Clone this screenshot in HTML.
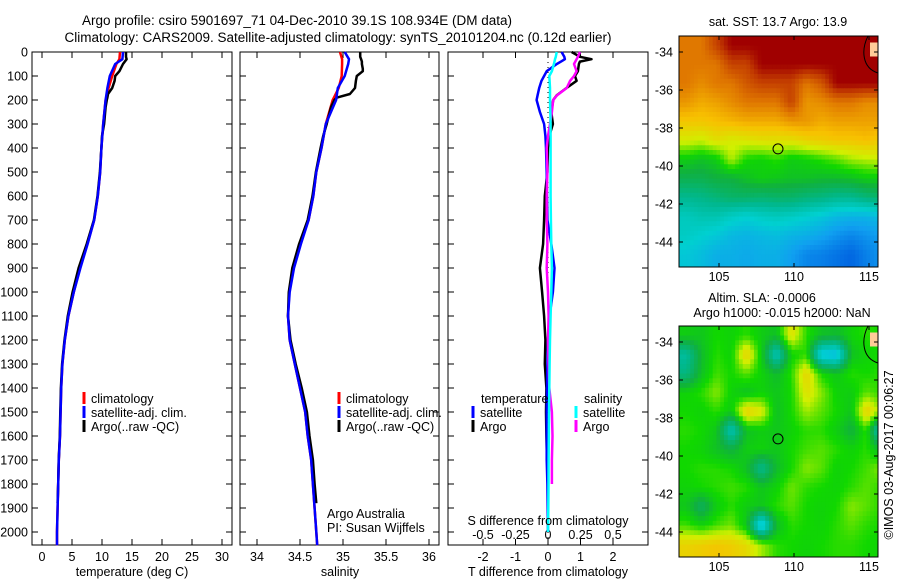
<!DOCTYPE html>
<html><head><meta charset="utf-8"><style>
html,body{margin:0;padding:0;background:#fff;}
svg{display:block;font-family:"Liberation Sans",sans-serif;}
text{font-size:12.5px;fill:#000;}
</style></head><body>
<svg id="fig" width="900" height="580" viewBox="0 0 900 580" xmlns="http://www.w3.org/2000/svg">
<text x="297" y="25" text-anchor="middle" style="font-size:13.5px">Argo profile: csiro 5901697_71 04-Dec-2010 39.1S 108.934E (DM data)</text>
<text x="338" y="42" text-anchor="middle" style="font-size:13.5px">Climatology: CARS2009. Satellite-adjusted climatology: synTS_20101204.nc (0.12d earlier)</text>
<g id="g"></g>
</svg>
<script>
// ---------- data ----------
const depthTicks=[0,100,200,300,400,500,600,700,800,900,1000,1100,1200,1300,1400,1500,1600,1700,1800,1900,2000];
const tTicks=[0,5,10,15,20,25,30];
const sTicks=[34,34.5,35,35.5,36];
const sTickLabels=["34","34.5","35","35.5","36"];
const dTTicks=[-2,-1,0,1,2];
const dSTicks=[-0.5,-0.25,0,0.25,0.5];
const dSTickLabels=["-0.5","-0.25","0","0.25","0.5"];

const climDepth=[0,30,50,100,150,200,300,400,500,600,700,800,900,1000,1100,1200,1300,1400,1500,1600,1700,1800,1900,2000,2055];
const climT=[13.0,12.9,12.4,11.7,11.1,10.6,10.2,9.9,9.7,9.3,8.7,7.55,6.3,5.3,4.4,3.8,3.4,3.2,3.1,3.0,2.8,2.7,2.6,2.5,2.5];
const satT=[13.5,13.4,12.2,11.3,10.9,10.6,10.2,9.9,9.7,9.3,8.7,7.6,6.4,5.3,4.4,3.8,3.4,3.2,3.1,3.0,2.8,2.7,2.6,2.5,2.5];
const climS=[34.965,34.99,34.99,34.985,34.95,34.88,34.80,34.75,34.69,34.655,34.60,34.50,34.42,34.375,34.36,34.38,34.44,34.5,34.56,34.59,34.63,34.65,34.67,34.69,34.70];
const satS=[35.02,35.07,35.06,35.02,34.94,34.92,34.80,34.75,34.69,34.655,34.60,34.51,34.43,34.38,34.36,34.38,34.44,34.5,34.56,34.59,34.63,34.65,34.67,34.69,34.70];

const argoDepth=[0,20,30,40,50,70,80,100,120,150,175,190,200,230,300,350,400,500,600,700,800,900,1000,1100,1200,1300,1400,1500,1600,1700,1800,1880];
const argoT=[14.0,14.0,14.1,13.8,13.5,13.1,12.9,12.2,12.1,11.7,11.0,10.9,10.8,10.6,10.35,10.0,9.9,9.65,9.25,8.65,7.45,6.1,5.1,4.3,3.75,3.35,3.15,3.05,2.97,2.78,2.7,2.6];
const argoS=[35.2,35.2,35.21,35.22,35.22,35.23,35.23,35.16,35.15,35.14,35.08,34.93,34.9,34.86,34.81,34.77,34.74,34.685,34.645,34.59,34.49,34.41,34.37,34.36,34.39,34.45,34.52,34.58,34.61,34.65,34.67,34.69];

const diffDepth=[0,20,30,40,50,80,100,120,150,180,200,250,300,350,400,500,600,700,800,900,1000,1100,1200,1300,1400,1500,1600,1700,1800,1900,2000];
const dTsat=[0.42,0.5,0.52,0.4,0.27,-0.04,-0.12,-0.2,-0.27,-0.32,-0.35,-0.25,-0.12,-0.08,-0.06,-0.04,-0.03,-0.02,0.1,0.2,0.15,0.05,0.0,-0.02,-0.03,-0.04,-0.04,-0.04,-0.02,-0.01,0];
const dTargo=[0.73,0.98,1.34,0.98,0.95,0.92,0.83,0.88,0.57,0.27,0.16,0.1,0.15,0.04,0.0,-0.02,-0.1,-0.12,-0.15,-0.25,-0.18,-0.12,-0.08,-0.1,-0.05,-0.06,-0.05,-0.03,null,null,null];
const dSsat=[0.067,0.06,0.054,0.05,0.045,0.03,0.01,0.012,0.015,0.015,0.015,0.018,0.02,0.02,0.02,0.02,0.02,0.022,0.025,0.03,0.025,0.02,0.015,0.012,0.01,0.008,0.006,0.005,0.004,0.002,0.0];
const dSargo=[0.246,0.23,0.22,0.21,0.2,0.22,0.2,0.17,0.144,0.07,0.04,0.03,0.015,0.0,-0.01,-0.005,-0.01,-0.01,-0.005,-0.01,0.0,0.005,0.0,0.005,0.01,0.03,0.035,0.03,0.03,null,null];

// map data: rows from north (-33.2) to south, columns from west (102.3), 1 degree cells
const sstGrid=[
[9,9,9.5,10,10,10,10,10,10,10,10,10,10,10],
[9,9,9,9.5,9.5,10,10,10,10,10,10,10,10,10],
[9,8.8,9,9,9.3,9.5,9.5,9.5,9,9.3,10,10,10,10],
[8.7,8.5,8.6,8.8,9,9,9,9.5,8.7,8.8,9,9,8.8,8.8],
[8.2,8.2,8.3,8.4,8.5,8.5,8.5,8.7,8.7,8.5,8.6,8.6,8.6,8.6],
[7.6,7.5,7.8,7.6,7.7,7.8,7.8,7.8,8,8.1,8.2,8.2,8.3,8.1],
[6.5,6.3,6.5,7.4,6.7,6.6,6.8,6.5,6.6,6.8,7,7.3,7.4,7.5],
[5.8,5.8,6,6,6.3,6.5,6.4,6.3,6.3,6.2,6.2,6.3,6.5,6.5],
[5,5.1,5.3,5.5,5.5,5.4,5.5,5.5,5.3,5.2,5,5,5.3,5.5],
[4.3,4.5,4.5,4.2,4,4.2,4.3,4.2,4,3.8,3.5,3.4,3.4,3.6],
[4.2,4,3.8,3.5,3.4,3.5,3.6,3.4,3.3,3.1,2.8,2.6,2.8,3],
[3.8,3.6,3.3,3.3,3.2,3.3,3.3,3,2.6,2.5,2.3,2.1,2.5,2.8]];
const slaGrid=[
[6.5,6.4,6.7,6.6,6.8,6.5,6.3,7.8,6.8,6.3,6.2,6.6,6.8,6.7],
[4.8,6.2,6.8,6.6,8.1,6.5,4.3,6.6,6.8,3.6,3.4,6.3,6.6,6.7],
[5.2,6.3,6.9,6.7,7.0,6.6,6.2,6.8,8.0,6.7,6.4,6.8,6.7,6.8],
[6.6,6.8,7.2,6.6,6.3,6.6,6.4,6.7,7.8,7.2,6.6,6.5,7.0,6.8],
[6.7,6.6,6.8,6.5,8.1,7.7,6.3,6.7,7.3,7.0,6.7,6.4,8.1,7.2],
[6.8,6.7,6.4,4.4,6.3,6.5,6.4,6.6,6.8,6.8,6.5,6.0,6.8,4.0],
[6.7,6.6,6.3,6.0,6.5,6.6,6.4,6.7,6.9,7.0,6.8,6.6,6.8,6.2],
[6.7,6.8,6.8,6.7,6.3,5.0,6.2,6.7,7.2,7.0,6.6,6.7,6.9,7.2],
[6.6,6.7,6.8,6.9,6.8,6.4,6.6,7.1,6.8,6.7,6.6,6.8,7.0,6.8],
[6.4,5.6,6.5,6.8,6.5,6.4,6.8,7.0,6.7,6.6,6.7,7.2,7.0,6.8],
[6.9,6.6,6.9,7.1,6.4,3.3,6.2,6.8,6.7,6.6,6.8,7.0,6.8,6.7],
[8.0,8.1,8.2,8.1,7.9,7.3,6.8,6.7,6.6,6.7,6.8,6.8,6.7,6.6]];
const lonTicks=[105,110,115];
const latTicks=[-34,-36,-38,-40,-42,-44];
const argoLon=108.934, argoLat=-39.1;

// ---------- drawing ----------
const NS="http://www.w3.org/2000/svg";
const G=document.getElementById('g');
function el(tag,attrs,parent){const e=document.createElementNS(NS,tag);for(const k in attrs)e.setAttribute(k,attrs[k]);(parent||G).appendChild(e);return e;}
function txt(x,y,s,anchor,parent){const t=el('text',{x:x,y:y,'text-anchor':anchor||'start'},parent);t.textContent=s;return t;}

const PT=52,PB=545;
const yD=d=>PT+d*0.24;
const panels=[
 {name:'temperature-panel',x0:32,x1:232,sx:v=>42+v*6},
 {name:'salinity-panel',x0:240,x1:439,sx:v=>257+(v-34)*86},
 {name:'difference-panel',x0:448,x1:648,sx:v=>548+v*32.5,sx2:v=>548+v*130}
];
panels.forEach(p=>{
 const r=el('rect',{x:p.x0,y:PT,width:p.x1-p.x0,height:PB-PT,fill:'none',stroke:'#000','stroke-width':1});
 
 
 depthTicks.forEach(d=>{
  el('line',{x1:p.x0,x2:p.x0+6,y1:yD(d),y2:yD(d),stroke:'#000'});
  el('line',{x1:p.x1-6,x2:p.x1,y1:yD(d),y2:yD(d),stroke:'#000'});
 });
});
depthTicks.forEach(d=>{
 const t=txt(28,yD(d)+4.5,String(d),'end');
 
 
});
function xticks(p,ticks,labels,f,ly){
 ticks.forEach((v,i)=>{
  const x=f(v);
  el('line',{x1:x,x2:x,y1:PT,y2:PT+6,stroke:'#000'});
  el('line',{x1:x,x2:x,y1:PB-6,y2:PB,stroke:'#000'});
  const t=txt(x,ly,labels?labels[i]:String(v),'middle');
  
  
 });
}
xticks(panels[0],tTicks,null,panels[0].sx,561);
xticks(panels[1],sTicks,sTickLabels,panels[1].sx,561);
xticks(panels[2],dTTicks,null,panels[2].sx,561);
dSTicks.forEach((v,i)=>{const t=txt(panels[2].sx2(v),539,dSTickLabels[i],'middle');
 
 });

function line(xs,ds,f,color,w,name){
 let d='';let pen=false;
 xs.forEach((v,i)=>{if(v===null){pen=false;return;}d+=(pen?'L':'M')+f(v).toFixed(1)+','+yD(ds[i]).toFixed(1);pen=true;});
 const p=el('path',{d:d,fill:'none',stroke:color,'stroke-width':w,'stroke-linejoin':'round'});
 
 
}
line(climT,climDepth,panels[0].sx,'#f00',2.5,'temp-climatology-line');
line(argoT,argoDepth,panels[0].sx,'#000',2.5,'temp-argo-line');
line(satT,climDepth,panels[0].sx,'#00f',2.5,'temp-satellite-line');
line(climS,climDepth,panels[1].sx,'#f00',2.5,'salinity-climatology-line');
line(argoS,argoDepth,panels[1].sx,'#000',2.5,'salinity-argo-line');
line(satS,climDepth,panels[1].sx,'#00f',2.5,'salinity-satellite-line');
el('line',{x1:548,x2:548,y1:PT,y2:PB,stroke:'#000','stroke-dasharray':'1,4'});
line(dTargo,diffDepth,panels[2].sx,'#000',2.5,'t-diff-argo-line');
line(dTsat,diffDepth,panels[2].sx,'#00f',2.5,'t-diff-satellite-line');
line(dSargo,diffDepth,panels[2].sx2,'#f0f',2.5,'s-diff-argo-line');
line(dSsat,diffDepth,panels[2].sx2,'#0ff',2.5,'s-diff-satellite-line');

function legend(x,y,color,label,name){
 const g=el('g',{});
 
 
 el('line',{x1:x,x2:x,y1:y-11,y2:y+1,stroke:color,'stroke-width':3},g);
 txt(x+7,y,label,'start',g);
}
[[0,'#f00','climatology'],[1,'#00f','satellite-adj. clim.'],[2,'#000','Argo(..raw -QC)']].forEach(a=>{
 legend(84,403+a[0]*14,a[1],a[2],'legend-entry-temp');
 legend(339,403+a[0]*14,a[1],a[2],'legend-entry-salinity');
});
txt(481,403,'temperature');txt(584,403,'salinity');
legend(473,417,'#00f','satellite','legend-t-satellite');
legend(473,431,'#000','Argo','legend-t-argo');
legend(576,417,'#0ff','satellite','legend-s-satellite');
legend(576,431,'#f0f','Argo','legend-s-argo');
txt(327,518,'Argo Australia');txt(327,532,'PI: Susan Wijffels');
txt(548,525,'S difference from climatology','middle');
[[132,'temperature (deg C)'],[340,'salinity'],[548,'T difference from climatology']].forEach(a=>{
 const t=txt(a[0],576,a[1],'middle');
 
 
});

// ---------- maps ----------
const stops=[[0,[0,48,176]],[2,[0,96,224]],[3,[16,160,240]],[4,[0,208,208]],[5,[0,184,144]],[6,[16,176,64]],[6.7,[16,216,0]],[7.5,[208,240,0]],[8.3,[248,192,0]],[9,[224,120,0]],[9.6,[192,56,0]],[10,[160,0,0]]];
function cmap(v){
 for(let i=0;i<stops.length-1;i++){const a=stops[i],b=stops[i+1];
  if(v<=b[0]){const t=Math.max(0,(v-a[0])/(b[0]-a[0]));const c=a[1].map((c0,k)=>Math.round(c0+(b[1][k]-c0)*t));return 'rgb('+c.join(',')+')';}}
 return 'rgb(160,0,0)';
}
function sample(grid,lon,lat){
 const nr=grid.length,nc=grid[0].length;
 let fc=Math.min(nc-1,Math.max(0,lon-102.83)), fr=Math.min(nr-1,Math.max(0,-33.66-lat));
 const c0=Math.min(nc-2,Math.floor(fc)), r0=Math.min(nr-2,Math.floor(fr));
 const tc=fc-c0, tr=fr-r0;
 const a=grid[r0][c0]*(1-tc)+grid[r0][c0+1]*tc, b=grid[r0+1][c0]*(1-tc)+grid[r0+1][c0+1]*tc;
 return a*(1-tr)+b*tr;
}
const MX0=679,MX1=878;
const lonX=l=>719+(l-105)*15;
function drawMap(grid,top,name){
 const y0=top, latY=la=>top+16+(-34-la)*19, bottom=top+231;
 const clip=el('clipPath',{id:'clip'+name});
 el('rect',{x:MX0,y:y0,width:MX1-MX0,height:bottom-y0},clip);
 const g=el('g',{'clip-path':'url(#clip'+name+')'});
 
 
 const sub=0.25;
 for(let la=-33.16;la>-45.3;la-=sub){
  for(let lo=102.33;lo<115.7;lo+=sub){
   const v=sample(grid,lo+sub/2,la-sub/2);
   const cell=el('rect',{x:lonX(lo).toFixed(2),y:latY(la).toFixed(2),width:(15*sub+0.6).toFixed(2),height:(19*sub+0.6).toFixed(2),fill:cmap(v)},g);
   
   
  }
 }
 el('rect',{x:870,y:latY(-33.5),width:8,height:14,fill:'#ffcc99'},g);
 el('path',{d:'M868,'+y0+' C861,'+(y0+14)+' 862,'+(y0+32)+' 878,'+(y0+37),fill:'none',stroke:'#000'},g);
 const fr=el('rect',{x:MX0,y:y0,width:MX1-MX0,height:bottom-y0,fill:'none',stroke:'#000'});
 
 
 lonTicks.forEach(l=>{const x=lonX(l);
  el('line',{x1:x,x2:x,y1:y0,y2:y0+4,stroke:'#000'});el('line',{x1:x,x2:x,y1:bottom-4,y2:bottom,stroke:'#000'});
  const t=txt(x,bottom+14,String(l),'middle');
  
  });
 latTicks.forEach(la=>{const y=latY(la);
  el('line',{x1:MX0,x2:MX0+4,y1:y,y2:y,stroke:'#000'});el('line',{x1:MX1-4,x2:MX1,y1:y,y2:y,stroke:'#000'});
  const t=txt(673,y+4.5,String(la),'end');
  
  });
 const c=el('circle',{cx:lonX(argoLon),cy:latY(argoLat),r:5,fill:'none',stroke:'#000'});
 
 
}
drawMap(sstGrid,36,'sst-map');
drawMap(slaGrid,326,'sla-map');
txt(778,26,'sat. SST: 13.7 Argo: 13.9','middle');
txt(762,302,'Altim. SLA: -0.0006','middle');
txt(782,317,'Argo h1000: -0.015 h2000: NaN','middle');
const cp=txt(0,0,'©IMOS 03-Aug-2017 00:06:27','middle');
cp.setAttribute('transform','translate(893,455) rotate(-90)');


</script>
</body></html>
